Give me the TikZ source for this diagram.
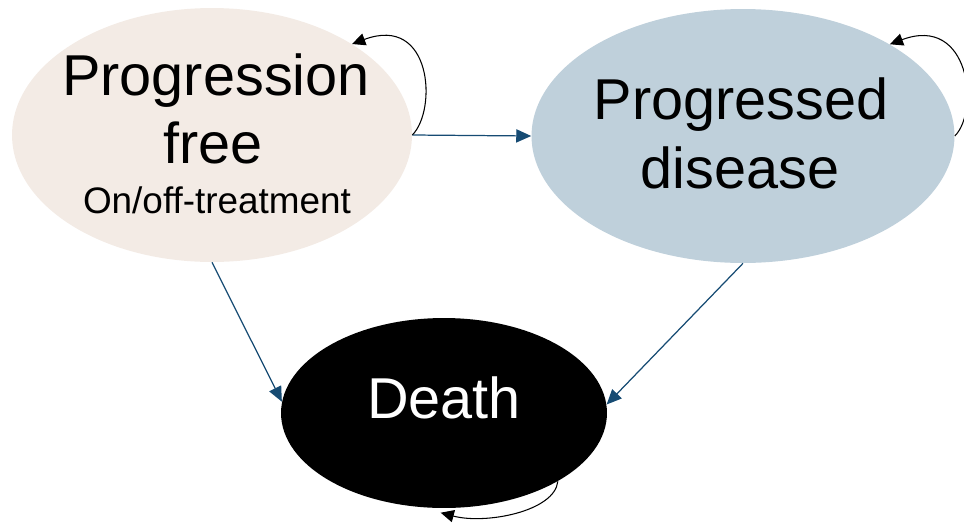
\documentclass[tikz,border=0pt]{standalone}
\usepackage{fontspec}
\setmainfont{Liberation Sans}
\usetikzlibrary{arrows.meta,shapes.geometric}
\definecolor{pfcol}{RGB}{243,235,229}
\definecolor{pdcol}{RGB}{191,208,219}
\definecolor{arrcol}{RGB}{22,75,115}
\tikzset{
  state/.style={ellipse, draw=none, inner sep=0pt},
  big/.style={anchor=base, inner sep=0pt, font=\fontsize{32.8}{39}\selectfont},
  small/.style={anchor=base, inner sep=0pt, font=\fontsize{21}{25}\selectfont},
  trans/.style={arrcol, line width=0.7pt, -{Triangle[length=8.5pt,width=7.5pt]}},
  stay/.style={black, line width=0.6pt, -{Triangle[length=7.5pt,width=7pt]}}
}
\begin{document}
\begin{tikzpicture}[x=0.02cm,y=-0.02cm]
        \clip (0,0) rectangle (964,528);
        \node[state, fill=pfcol, minimum width=8cm, minimum height=5.08cm] (pf) at (212,135) {};
        \node[state, fill=pdcol, minimum width=8.46cm, minimum height=5.08cm] (pd) at (743,136) {};
        \node[state, fill=black, minimum width=6.52cm, minimum height=3.8cm] (dth) at (444,413) {};
        \node[big] (pfa) at (216,95) {Progression};
        \node[big] (pfb) at (213,163) {free};
        \node[small] (pfc) at (217,213) {On/off-treatment};
        \node[big] (pda) at (741,119) {Progressed};
        \node[big] (pdb) at (740,188) {disease};
        \node[big, white] (dtha) at (444,418) {Death};
        \draw[trans] (pf.east) -- (pd.west);
        \draw[trans] (pf.south) -- (dth.176);
        \draw[trans] (pd.south) -- (dth.3);
        \draw[stay] (pf.east) .. controls +(25,-25) and +(80,-30) .. (pf.33);
        \draw[stay] (pd.east) .. controls +(25,-25) and +(80,-30) .. (pd.32);
        \draw[stay] (dth.329) .. controls +(-3,30) and +(45,12) .. ([yshift=-2.5pt]dth.268);
    \end{tikzpicture}
\end{document}
